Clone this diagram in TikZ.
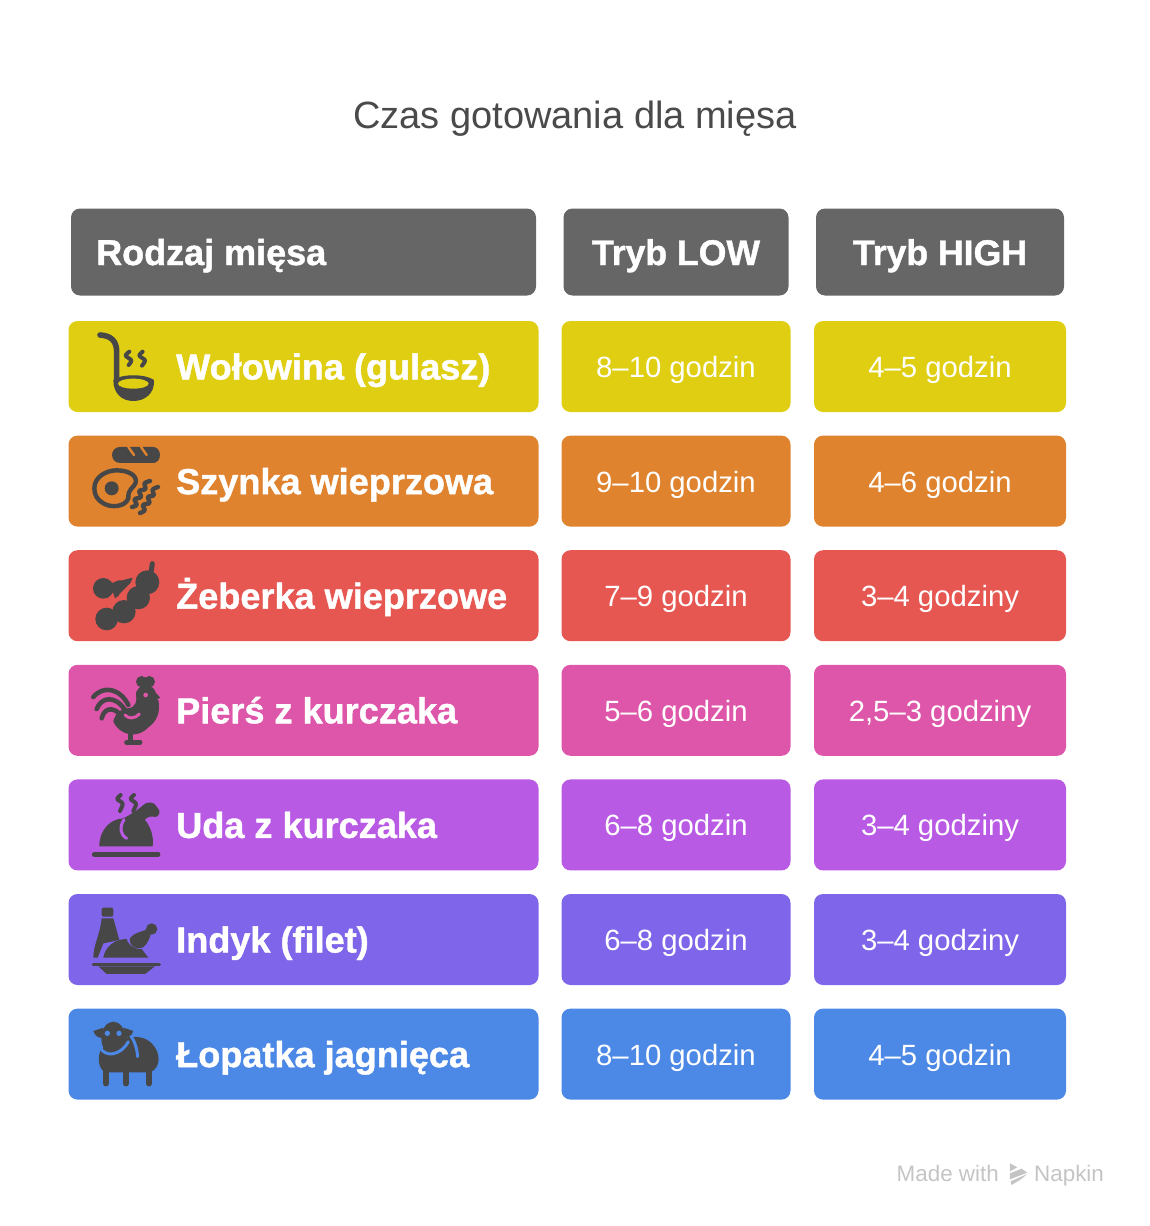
\documentclass[tikz,border=0pt]{standalone}
\usepackage{fontspec}
\setmainfont[BoldFeatures={FakeBold=1.2}]{Liberation Sans}
\definecolor{headcol}{HTML}{666666}
\definecolor{iconcol}{HTML}{474747}
\definecolor{titlecol}{HTML}{4A4A4A}
\definecolor{markcol}{HTML}{C4C4C4}
\definecolor{yellowcol}{HTML}{E0CE12}
\definecolor{orangecol}{HTML}{DF832F}
\definecolor{redcol}{HTML}{E65752}
\definecolor{pinkcol}{HTML}{DE56A9}
\definecolor{violetcol}{HTML}{B95AE4}
\definecolor{indigocol}{HTML}{7F65E9}
\definecolor{bluecol}{HTML}{4C88E6}
\tikzset{
    cellbox/.style={rectangle, rounded corners=9pt, inner sep=0pt, text=white, text height=24pt, text depth=2pt, font=\fontsize{29.3}{30}\selectfont},
    headbox/.style={cellbox, fill=headcol, minimum height=87pt, text height=30pt, text depth=4pt, font=\fontsize{35.6}{36}\selectfont\bfseries},
    rowlabel/.style={anchor=west, inner sep=0pt, text=white, text height=30pt, text depth=4pt, font=\fontsize{36.1}{36}\selectfont\bfseries},
    marktext/.style={text=markcol, inner sep=0pt, text height=18pt, text depth=2pt, font=\fontsize{22.4}{22}\selectfont},
    iconfill/.style={fill=iconcol, draw=none},
    iconline/.style={draw=iconcol, line cap=round, line join=round, line width=5pt},
    iconcut/.style={line cap=round, line join=round, line width=3pt},
}
\begin{document}
\begin{tikzpicture}[x=1pt, y=-1pt]
    \useasboundingbox (0,0) rectangle (1150,1226);
    \node[text=titlecol, font=\fontsize{38}{38}\selectfont, inner sep=0pt] (title) at (575,119) {Czas gotowania dla mięsa};
    % header row
    \node[headbox, minimum width=465pt] (headmeat) at (303.5,252) {};
    \node[rowlabel, font=\fontsize{36}{36}\selectfont\bfseries] (headmeattext) at (96,252) {Rodzaj mięsa};
    \node[headbox, minimum width=225pt] (headlow) at (676,252) {Tryb LOW};
    \node[headbox, minimum width=248pt] (headhigh) at (940,252) {Tryb HIGH};
    % table rows
    \foreach \rowname/\lowtext/\hightext/\rowcol [count=\i from 0] in {
        Wołowina (gulasz)/8–10 godzin/4–5 godzin/yellowcol,
        Szynka wieprzowa/9–10 godzin/4–6 godzin/orangecol,
        Żeberka wieprzowe/7–9 godzin/3–4 godziny/redcol,
        Pierś z kurczaka/5–6 godzin/{2,5–3 godziny}/pinkcol,
        Uda z kurczaka/6–8 godzin/3–4 godziny/violetcol,
        Indyk (filet)/6–8 godzin/3–4 godziny/indigocol,
        Łopatka jagnięca/8–10 godzin/4–5 godzin/bluecol} {
        \pgfmathsetmacro\rowy{366.5+114.6*\i}
        \node[cellbox, fill=\rowcol, minimum width=470pt, minimum height=91pt] (meat\i) at (303.5,\rowy) {};
        \node[rowlabel] (name\i) at (176,\rowy) {\rowname};
        \node[cellbox, fill=\rowcol, minimum width=229pt, minimum height=91pt] (low\i) at (676,\rowy) {\lowtext};
        \node[cellbox, fill=\rowcol, minimum width=252pt, minimum height=91pt] (high\i) at (940,\rowy) {\hightext};
    }
    % icons of rows 1 and 2
    \begin{scope}[shift={(60,315)}, scale=0.3333]
        \draw[iconline, line width=5.6pt] (120,60) .. controls (155,62) and (170,80) .. (170,110) -- (170,195);
        \fill[iconfill] (160,195) .. controls (185,176) and (255,176) .. (282,195) .. controls (285,235) and (255,258) .. (220,258) .. controls (185,258) and (160,235) .. (160,195) -- cycle;
        \fill[yellowcol] (220,206) ellipse (46 and 15);
        \draw[iconline, line width=4pt] plot[smooth] coordinates {(208,110) (197,122) (214,136) (206,150)};
        \draw[iconline, line width=4pt] plot[smooth] coordinates {(248,110) (238,122) (255,136) (246,152)};
        \fill[iconfill] (180,396) -- (280,396) arc (-90:90:20 and 24) -- (180,444) arc (90:270:24) -- cycle;
        \draw[iconcut, draw=orangecol, line width=2.4pt] (205,396) -- (222,420);
        \draw[iconcut, draw=orangecol, line width=2.4pt] (243,396) -- (260,420);
        \draw[iconline, line width=4.4pt] (103,520) .. controls (103,485) and (140,466) .. (170,466) .. controls (215,466) and (240,490) .. (222,512) .. controls (205,530) and (205,535) .. (205,550) .. controls (195,578) and (150,578) .. (130,565) .. controls (112,555) and (103,540) .. (103,520) -- cycle;
        \fill[iconfill] (155,520) circle (21);
        \draw[iconline, line width=4.4pt] plot[smooth] coordinates {(216,576) (230,570) (224,553) (243,546) (238,528) (256,522) (254,505) (270,498)};
        \draw[iconline, line width=4.4pt] plot[smooth] coordinates {(240,594) (254,586) (249,570) (268,564) (264,546) (281,541) (278,524) (294,516)};
    \end{scope}
    % icons of rows 3 and 4
    \begin{scope}[shift={(60,545)}, scale=0.3333]
        \fill[iconfill] (130,130) circle (31);
        \fill[iconfill] (178,125) circle (19);
        \fill[iconfill] (150,115) -- (218,98) -- (205,130) -- (165,160) -- cycle;
        \fill[iconfill] (262,112) circle (36);
        \fill[iconfill] (235,158) circle (35);
        \fill[iconfill] (192,200) circle (35);
        \fill[iconfill] (140,222) circle (34);
        \draw[iconline] (277,56) -- (272,90);
        \draw[iconcut, draw=redcol, line width=2pt] (218,112) -- (180,150);
        % rooster
        \draw[iconline, line width=4.6pt] (100,456) .. controls (130,420) and (180,430) .. (205,480);
        \draw[iconline, line width=4.6pt] (110,492) .. controls (125,455) and (165,450) .. (195,495);
        \draw[iconline, line width=4.6pt] (125,520) .. controls (135,480) and (170,490) .. (185,515);
        \fill[iconfill] (245,410) circle (17);
        \fill[iconfill] (268,410) circle (17);
        \fill[iconfill] (258,450) circle (30);
        \fill[iconfill] (280,436) -- (301,458) -- (278,470) -- cycle;
        \fill[iconfill] (228,440) .. controls (232,470) and (228,490) .. (200,490) .. controls (185,490) and (165,505) .. (160,530) .. controls (180,572) and (232,582) .. (264,548) .. controls (292,528) and (302,500) .. (295,465) -- cycle;
        \fill[pinkcol] (257,450) circle (7);
        \draw[iconcut, draw=pinkcol] (195,510) .. controls (205,522) and (225,522) .. (238,507);
        \draw[iconline] (213,565) -- (213,590);
        \draw[iconline] (200,592) -- (240,592);
    \end{scope}
    % icons of rows 5, 6 and 7
    \begin{scope}[shift={(60,775)}, scale=0.3333]
        \draw[iconline] (103,238) -- (294,238);
        \fill[iconfill] (118,214) .. controls (118,165) and (150,132) .. (190,130) .. controls (205,122) and (225,112) .. (250,90) .. controls (260,78) and (285,80) .. (290,95) .. controls (305,105) and (300,130) .. (280,125) .. controls (270,122) and (255,130) .. (255,135) .. controls (272,155) and (282,185) .. (278,214) -- cycle;
        \draw[iconcut, draw=violetcol] (192,134) .. controls (178,155) and (180,180) .. (200,190);
        \draw[iconline, line width=4pt] plot[smooth] coordinates {(182,60) (172,72) (188,86) (180,108)};
        \draw[iconline, line width=4pt] plot[smooth] coordinates {(222,60) (212,72) (228,86) (220,108)};
        % bottle and turkey
        \fill[iconfill, rounded corners=2pt] (125,398) -- (160,398) -- (160,425) -- (125,425) -- cycle;
        \fill[iconfill] (125,430) -- (160,430) -- (178,495) -- (130,505) -- (113,548) -- (100,548) .. controls (100,510) and (120,480) .. (125,430) -- cycle;
        \fill[iconfill] (130,548) .. controls (135,515) and (165,492) .. (200,492) .. controls (205,515) and (235,525) .. (245,522) -- (265,548) -- cycle;
        \fill[iconfill] (210,490) .. controls (225,470) and (250,470) .. (262,462) -- (272,480) .. controls (265,500) and (255,522) .. (235,520) .. controls (220,520) and (205,505) .. (210,490) -- cycle;
        \fill[iconfill] (275,462) circle (17);
        \draw[iconline, line width=3.6pt] (100,569) -- (298,569);
        \fill[iconfill] (115,574) -- (285,574) -- (255,597) -- (140,597) -- cycle;
        % lamb
        \fill[iconfill] (122,825) .. controls (170,785) and (240,770) .. (275,805) .. controls (305,835) and (302,880) .. (270,892) -- (135,892) .. controls (115,880) and (112,850) .. (122,825) -- cycle;
        \fill[iconfill] (160,790) ellipse (36 and 50);
        \fill[iconfill] (130,758) -- (100,768) .. controls (105,785) and (120,792) .. (130,787) -- cycle;
        \fill[iconfill] (190,758) -- (220,768) .. controls (215,785) and (200,792) .. (190,787) -- cycle;
        \fill[bluecol] (142,775) circle (8);
        \fill[bluecol] (177,775) circle (8);
        \draw[iconcut, draw=bluecol] (122,820) .. controls (135,845) and (180,845) .. (205,800);
        \draw[iconcut, draw=bluecol] (214,785) .. controls (225,800) and (232,825) .. (233,845);
        \draw[iconline, line width=5.6pt] (138,885) -- (138,926);
        \draw[iconline, line width=5.6pt] (198,885) -- (198,926);
        \draw[iconline, line width=5.6pt] (267,885) -- (267,926);
    \end{scope}
    % made with mark
    \node[marktext, anchor=east] (madewith) at (999,1173) {Made with};
    \node[marktext, anchor=west] (napkin) at (1034,1173) {Napkin};
    \begin{scope}[shift={(880,1150)}, scale=0.3333]
        \fill[markcol] (390,40) -- (412,52) -- (390,64) -- cycle;
        \fill[markcol] (390,70) -- (425,56) -- (442,68) -- (390,88) -- cycle;
        \fill[markcol] (392,94) -- (442,72) -- (420,90) -- (394,105) -- cycle;
    \end{scope}
\end{tikzpicture}
\end{document}
